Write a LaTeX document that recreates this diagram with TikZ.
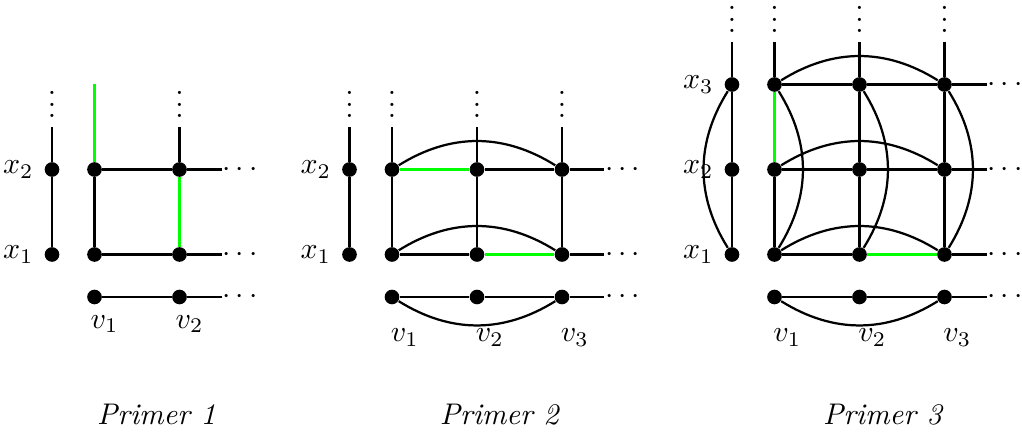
\documentclass[tikz,border=0pt]{standalone}
\usepackage{xcolor}
\usepackage{tikz}
\usetikzlibrary{positioning}

% three stacked dots, without the top kern of \vdots
\newcommand{\vdts}{\vbox{\baselineskip=3.8pt \lineskiplimit=0pt \hbox{.}\hbox{.}\hbox{.}}}

\begin{document}
\begin{tikzpicture}[
    node distance=1cm and 1cm, on grid,
    dot/.style={circle, fill, inner sep=0pt, minimum size=4.9pt},
    edge/.style={line width=0.75pt},
    hot/.style={line width=0.75pt, green},
    vd/.style={anchor=south, inner sep=0pt, yshift=3pt},
    hd/.style={anchor=west, inner sep=0pt},
    vlab/.style={xshift=3.4pt},
    vlabb/.style={xshift=4.3pt, yshift=-4.5pt}
  ]
    \useasboundingbox (-1.112,-2.088) rectangle (10.912,2.994);

    % Primer 1
    \node[dot, label=left:$x_1$] (ax1) at (-0.5,0) {};
    \node[dot, label=left:$x_2$, above=of ax1] (ax2) {};
    \node[dot] (a11) at (0,0) {};
    \node[dot, above=of a11] (a12) {};
    \node[dot, below=0.5cm of a11, label={[vlab]below:$v_1$}] (a10) {};
    \node[dot, right=of a11] (a21) {};
    \node[dot, above=of a21] (a22) {};
    \node[dot, right=of a10, label={[vlab]below:$v_2$}] (a20) {};

    \coordinate[above=0.5cm of ax2] (axt);
    \coordinate[above=1cm of a12] (a1t);
    \coordinate[above=0.5cm of a22] (a2t);
    \coordinate[right=0.5cm of a20] (ar0);
    \coordinate[right=0.5cm of a21] (ar1);
    \coordinate[right=0.5cm of a22] (ar2);
    \node[vd] (axd) at (axt) {\vdts};
    \node[vd] (a2d) at (a2t) {\vdts};
    \node[hd] (ar0d) at (ar0) {$\cdots$};
    \node[hd] (ar1d) at (ar1) {$\cdots$};
    \node[hd] (ar2d) at (ar2) {$\cdots$};

    \draw[edge] (ax1) -- (ax2) -- (axt);
    \draw[edge] (a11) -- (a12);
    \draw[hot]  (a12) -- (a1t);
    \draw[hot]  (a21) -- (a22);
    \draw[edge] (a22) -- (a2t);
    \draw[edge] (a12) -- (a22) -- (ar2);
    \draw[edge] (a11) -- (a21) -- (ar1);
    \draw[edge] (a10) -- (a20) -- (ar0);

    % Primer 2
    \node[dot, label=left:$x_1$] (bx1) at (3,0) {};
    \node[dot, label=left:$x_2$, above=of bx1] (bx2) {};
    \node[dot] (b11) at (3.5,0) {};
    \node[dot, above=of b11] (b12) {};
    \node[dot, below=0.5cm of b11, label={[vlabb]below:$v_1$}] (b10) {};
    \node[dot, right=of b11] (b21) {};
    \node[dot, above=of b21] (b22) {};
    \node[dot, right=of b10, label={[vlabb]below:$v_2$}] (b20) {};
    \node[dot, right=of b21] (b31) {};
    \node[dot, above=of b31] (b32) {};
    \node[dot, right=of b20, label={[vlabb]below:$v_3$}] (b30) {};

    \coordinate[above=0.5cm of bx2] (bxt);
    \coordinate[above=0.5cm of b12] (b1t);
    \coordinate[above=0.5cm of b22] (b2t);
    \coordinate[above=0.5cm of b32] (b3t);
    \coordinate[right=0.5cm of b30] (br0);
    \coordinate[right=0.5cm of b31] (br1);
    \coordinate[right=0.5cm of b32] (br2);
    \node[vd] (bxd) at (bxt) {\vdts};
    \node[vd] (b1d) at (b1t) {\vdts};
    \node[vd] (b2d) at (b2t) {\vdts};
    \node[vd] (b3d) at (b3t) {\vdts};
    \node[hd] (br0d) at (br0) {$\cdots$};
    \node[hd] (br1d) at (br1) {$\cdots$};
    \node[hd] (br2d) at (br2) {$\cdots$};

    \draw[edge] (bx1) -- (bx2) -- (bxt);
    \draw[edge] (b11) -- (b12) -- (b1t);
    \draw[edge] (b21) -- (b22) -- (b2t);
    \draw[edge] (b31) -- (b32) -- (b3t);
    \draw[hot]  (b12) -- (b22);
    \draw[edge] (b22) -- (b32) -- (br2);
    \draw[edge] (b11) -- (b21);
    \draw[hot]  (b21) -- (b31);
    \draw[edge] (b31) -- (br1);
    \draw[edge] (b10) -- (b20) -- (b30) -- (br0);
    \draw[edge] (b12) to[bend left=32] (b32);
    \draw[edge] (b11) to[bend left=32] (b31);
    \draw[edge] (b10) to[bend right=32] (b30);

    % Primer 3
    \node[dot, label=left:$x_1$] (cx1) at (7.5,0) {};
    \node[dot, label=left:$x_2$, above=of cx1] (cx2) {};
    \node[dot, label=left:$x_3$, above=of cx2] (cx3) {};
    \node[dot] (c11) at (8,0) {};
    \node[dot, above=of c11] (c12) {};
    \node[dot, above=of c12] (c13) {};
    \node[dot, below=0.5cm of c11, label={[vlabb]below:$v_1$}] (c10) {};
    \node[dot, right=of c11] (c21) {};
    \node[dot, above=of c21] (c22) {};
    \node[dot, above=of c22] (c23) {};
    \node[dot, right=of c10, label={[vlabb]below:$v_2$}] (c20) {};
    \node[dot, right=of c21] (c31) {};
    \node[dot, above=of c31] (c32) {};
    \node[dot, above=of c32] (c33) {};
    \node[dot, right=of c20, label={[vlabb]below:$v_3$}] (c30) {};

    \coordinate[above=0.5cm of cx3] (cxt);
    \coordinate[above=0.5cm of c13] (c1t);
    \coordinate[above=0.5cm of c23] (c2t);
    \coordinate[above=0.5cm of c33] (c3t);
    \coordinate[right=0.5cm of c30] (cr0);
    \coordinate[right=0.5cm of c31] (cr1);
    \coordinate[right=0.5cm of c32] (cr2);
    \coordinate[right=0.5cm of c33] (cr3);
    \node[vd] (cxd) at (cxt) {\vdts};
    \node[vd] (c1d) at (c1t) {\vdts};
    \node[vd] (c2d) at (c2t) {\vdts};
    \node[vd] (c3d) at (c3t) {\vdts};
    \node[hd] (cr0d) at (cr0) {$\cdots$};
    \node[hd] (cr1d) at (cr1) {$\cdots$};
    \node[hd] (cr2d) at (cr2) {$\cdots$};
    \node[hd] (cr3d) at (cr3) {$\cdots$};

    \draw[edge] (cx1) -- (cx2) -- (cx3) -- (cxt);
    \draw[edge] (cx3) to[bend right=32] (cx1);
    \draw[edge] (c11) -- (c12);
    \draw[hot]  (c12) -- (c13);
    \draw[edge] (c13) -- (c1t);
    \draw[edge] (c21) -- (c22) -- (c23) -- (c2t);
    \draw[edge] (c31) -- (c32) -- (c33) -- (c3t);
    \draw[edge] (c13) to[bend left=32] (c11);
    \draw[edge] (c23) to[bend left=32] (c21);
    \draw[edge] (c33) to[bend left=32] (c31);
    \draw[edge] (c13) -- (c23) -- (c33) -- (cr3);
    \draw[edge] (c12) -- (c22) -- (c32) -- (cr2);
    \draw[edge] (c11) -- (c21);
    \draw[hot]  (c21) -- (c31);
    \draw[edge] (c31) -- (cr1);
    \draw[edge] (c10) -- (c20) -- (c30) -- (cr0);
    \draw[edge] (c13) to[bend left=32] (c33);
    \draw[edge] (c12) to[bend left=32] (c32);
    \draw[edge] (c11) to[bend left=32] (c31);
    \draw[edge] (c10) to[bend right=32] (c30);

    % captions
    \node[anchor=base] (t1) at (0.73,-2) {\textit{Primer 1}};
    \node[anchor=base] (t2) at (4.77,-2) {\textit{Primer 2}};
    \node[anchor=base] (t3) at (9.28,-2) {\textit{Primer 3}};
  \end{tikzpicture}
\end{document}
